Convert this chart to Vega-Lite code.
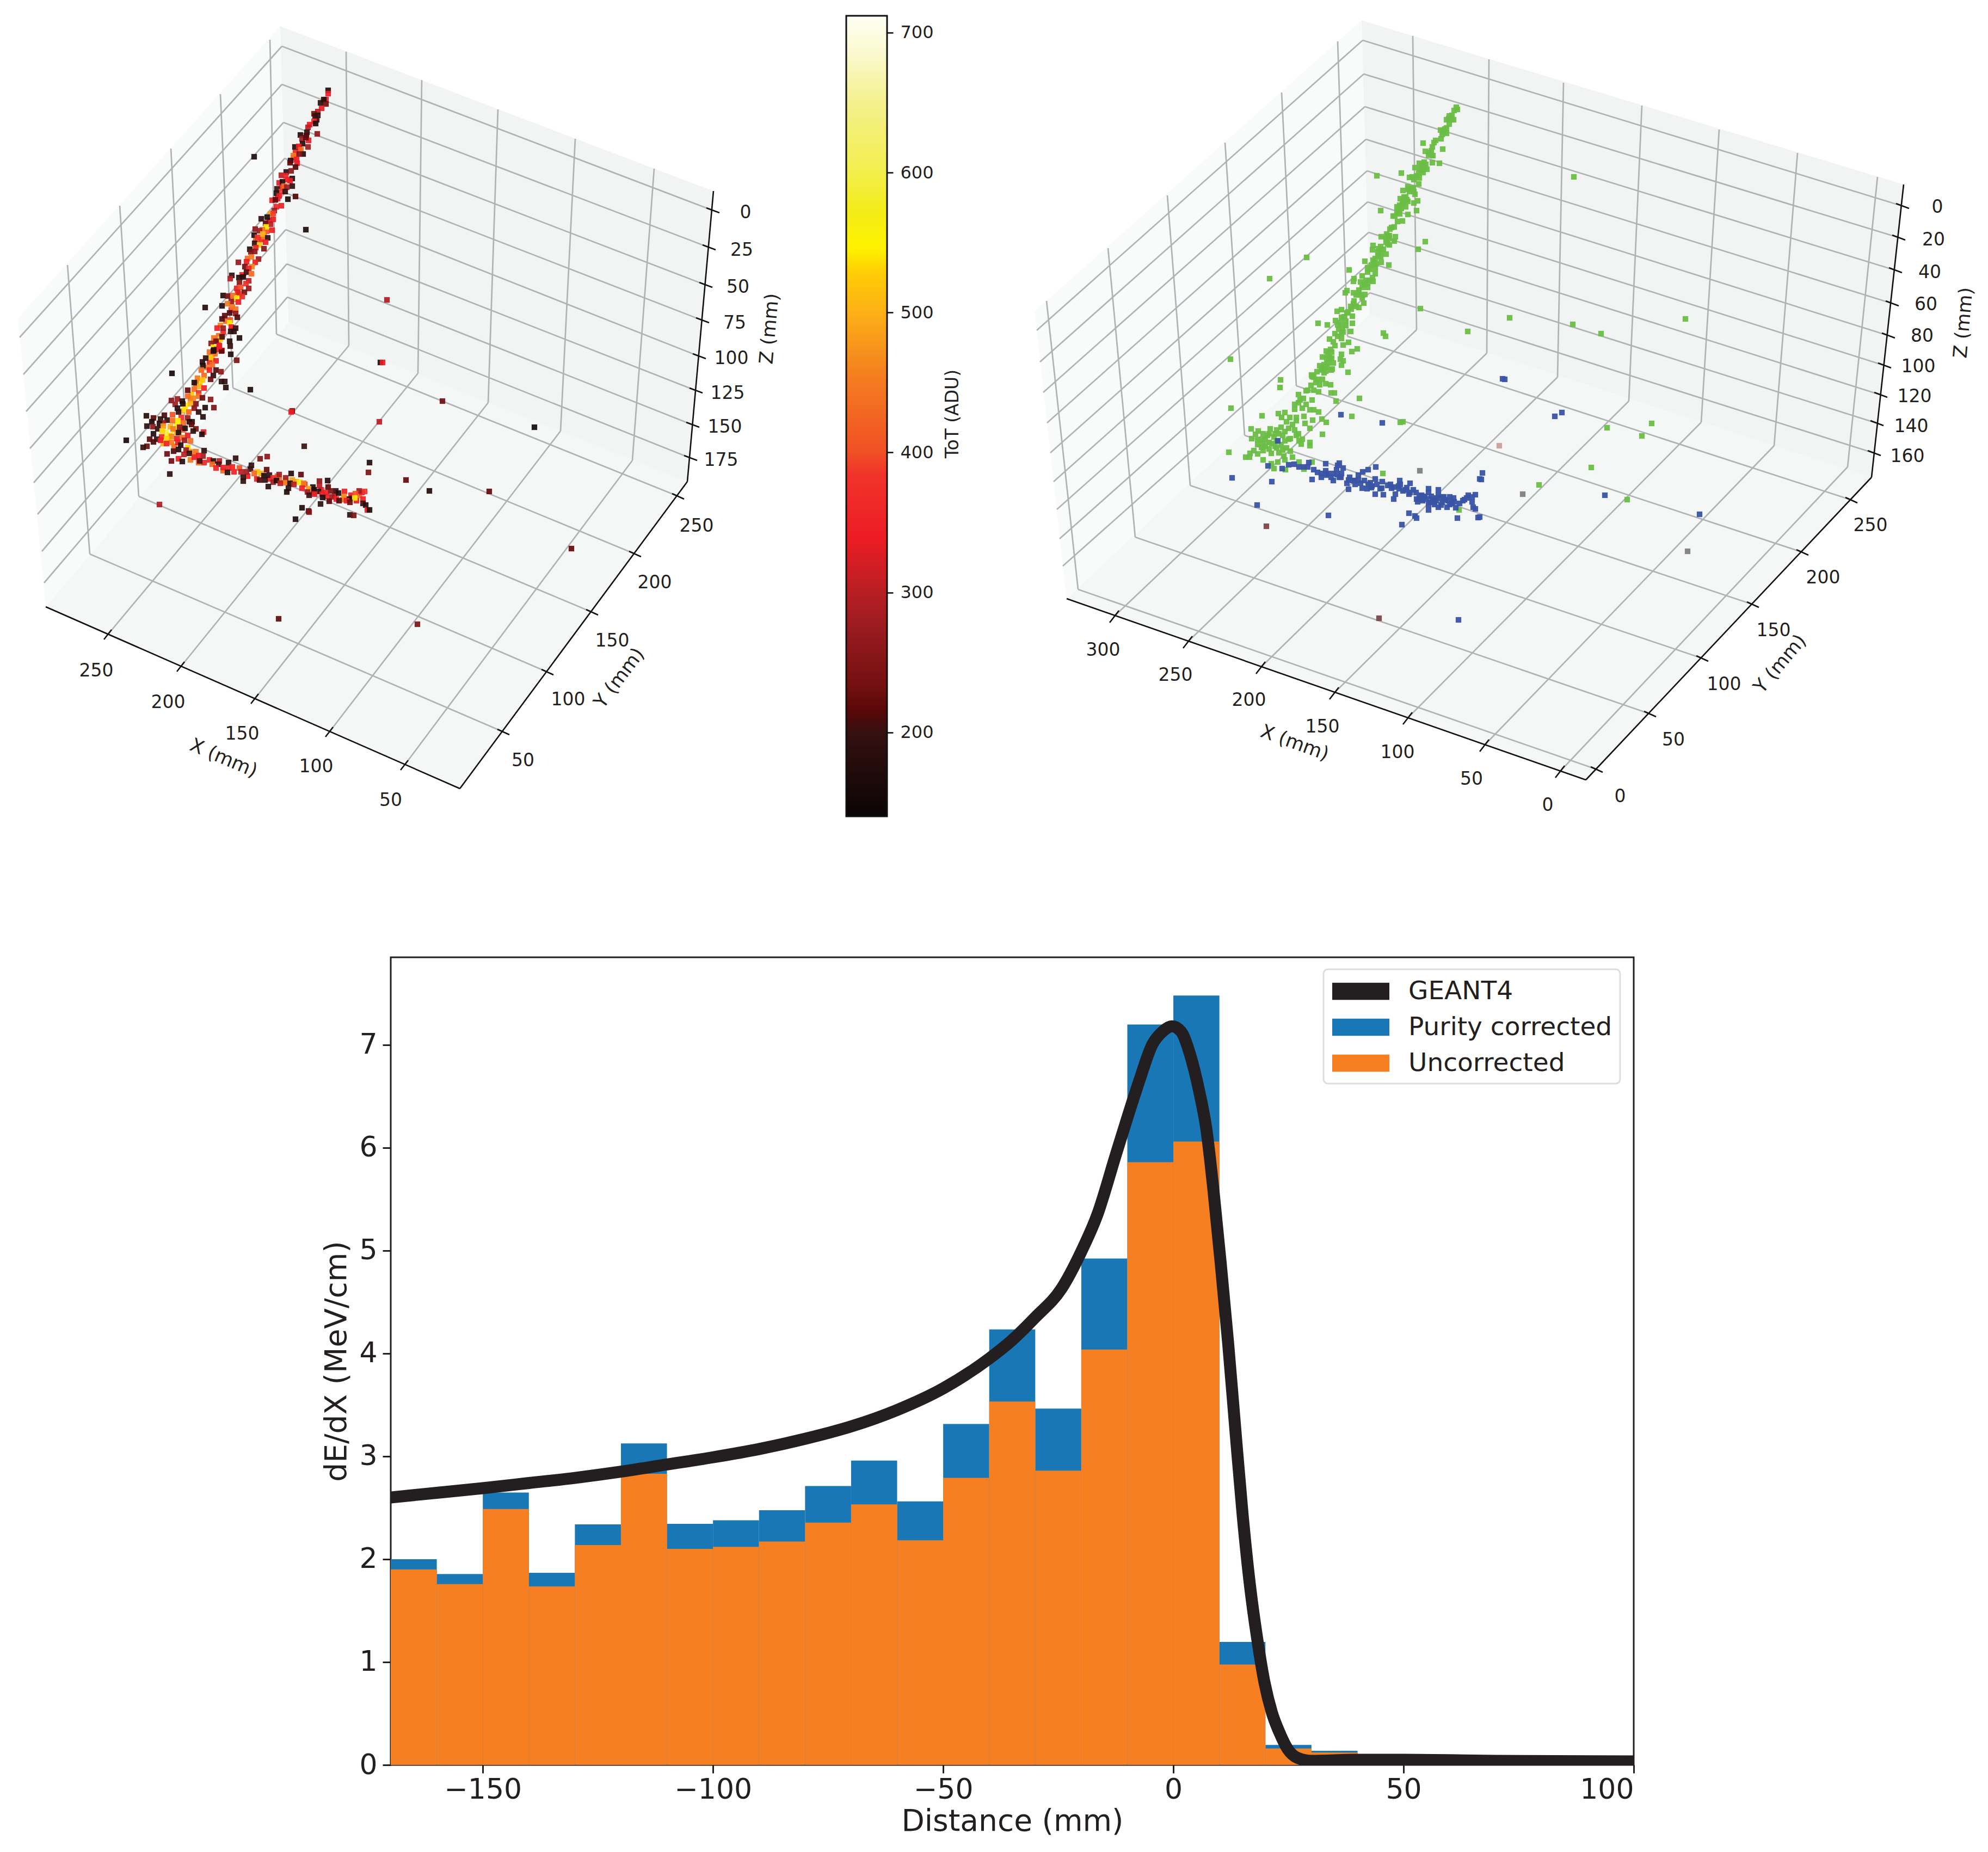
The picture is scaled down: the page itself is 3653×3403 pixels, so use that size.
{"$schema":"https://vega.github.io/schema/vega-lite/v6.json","background":"white","padding":0,"config":{"view":{"stroke":null},"font":"DejaVu Sans","text":{"font":"DejaVu Sans","color":"#231f20"},"legend":{"strokeWidth":3}},"bounds":"flush","spacing":1759,"vconcat":[{"bounds":"flush","spacing":0,"hconcat":[
{"width":1555,"height":1520,"encoding":{"x":{"field":"u","type":"quantitative","scale":{"domain":[0,1555]},"axis":null},"y":{"field":"v","type":"quantitative","scale":{"domain":[1520,0]},"axis":null}},"layer":[
{"data":{"values":[{"u":33,"v":585,"v2":585},{"u":84,"v":528,"v2":1115},{"u":515,"v":48,"v2":611},{"u":530,"v":593,"v2":593}]},"mark":{"type":"area","color":"#f9fafa","orient":"vertical"},"encoding":{"y2":{"field":"v2"}}},
{"data":{"values":[{"u":515,"v":48,"v2":48},{"u":530,"v":54,"v2":593},{"u":1263,"v":333,"v2":885},{"u":1311,"v":351,"v2":351}]},"mark":{"type":"area","color":"#f2f3f3","orient":"vertical"},"encoding":{"y2":{"field":"v2"}}},
{"data":{"values":[{"u":84,"v":1115,"v2":1115},{"u":530,"v":593,"v2":1311},{"u":845,"v":718,"v2":1449},{"u":1263,"v":885,"v2":885}]},"mark":{"type":"area","color":"#f5f7f7","orient":"vertical"},"encoding":{"y2":{"field":"v2"}}},
{"data":{"values":[{"u":199,"v":1165,"u2":641,"v2":635},{"u":641,"v":635,"u2":636,"v2":95},{"u":333,"v":1224,"u2":768,"v2":686},{"u":768,"v":686,"u2":775,"v2":147},{"u":469,"v":1283,"u2":897,"v2":740},{"u":897,"v":740,"u2":915,"v2":201},{"u":606,"v":1344,"u2":1030,"v2":792},{"u":1030,"v":792,"u2":1057,"v2":255},{"u":744,"v":1405,"u2":1162,"v2":846},{"u":1162,"v":846,"u2":1202,"v2":310},{"u":923,"v":1344,"u2":165,"v2":1018},{"u":165,"v":1018,"u2":124,"v2":487},{"u":1004,"v":1234,"u2":255,"v2":912},{"u":255,"v":912,"u2":220,"v2":378},{"u":1086,"v":1124,"u2":342,"v2":812},{"u":342,"v":812,"u2":314,"v2":273},{"u":1165,"v":1017,"u2":428,"v2":713},{"u":428,"v":713,"u2":405,"v2":173},{"u":1244,"v":911,"u2":508,"v2":614},{"u":508,"v":614,"u2":496,"v2":73},{"u":1308,"v":386,"u2":518,"v2":85},{"u":518,"v":85,"u2":36,"v2":620},{"u":1301,"v":454,"u2":518,"v2":155},{"u":518,"v":155,"u2":43,"v2":688},{"u":1295,"v":523,"u2":521,"v2":225},{"u":521,"v":225,"u2":48,"v2":756},{"u":1289,"v":588,"u2":523,"v2":291},{"u":523,"v":291,"u2":55,"v2":824},{"u":1283,"v":654,"u2":524,"v2":354},{"u":524,"v":354,"u2":62,"v2":887},{"u":1277,"v":717,"u2":525,"v2":422},{"u":525,"v":422,"u2":69,"v2":945},{"u":1271,"v":780,"u2":527,"v2":485},{"u":527,"v":485,"u2":77,"v2":1013},{"u":1267,"v":841,"u2":528,"v2":546},{"u":528,"v":546,"u2":81,"v2":1071}]},"mark":{"type":"rule","color":"#b1b3b3","strokeWidth":2.7},"encoding":{"x2":{"field":"u2"},"y2":{"field":"v2"}}},
{"data":{"values":[{"u":84,"v":1115,"u2":845,"v2":1449},{"u":845,"v":1449,"u2":1263,"v2":885},{"u":1311,"v":351,"u2":1263,"v2":885},{"u":191,"v":1175,"u2":205,"v2":1157},{"u":325,"v":1234,"u2":339,"v2":1216},{"u":461,"v":1293,"u2":475,"v2":1275},{"u":598,"v":1354,"u2":612,"v2":1336},{"u":736,"v":1415,"u2":750,"v2":1397},{"u":914,"v":1340,"u2":936,"v2":1350},{"u":995,"v":1230,"u2":1017,"v2":1240},{"u":1077,"v":1120,"u2":1099,"v2":1130},{"u":1156,"v":1013,"u2":1178,"v2":1023},{"u":1235,"v":907,"u2":1257,"v2":917},{"u":1298,"v":382,"u2":1322,"v2":391},{"u":1291,"v":450,"u2":1315,"v2":459},{"u":1285,"v":519,"u2":1309,"v2":528},{"u":1279,"v":584,"u2":1303,"v2":593},{"u":1273,"v":650,"u2":1297,"v2":659},{"u":1267,"v":713,"u2":1291,"v2":722},{"u":1261,"v":776,"u2":1285,"v2":785},{"u":1257,"v":837,"u2":1281,"v2":846}]},"mark":{"type":"rule","color":"#111111","strokeWidth":2.6},"encoding":{"x2":{"field":"u2"},"y2":{"field":"v2"}}},
{"data":{"values":[{"u":470,"v":440,"ToT":430},{"u":480,"v":440,"ToT":350},{"u":490,"v":425,"ToT":400},{"u":455,"v":475,"ToT":430},{"u":445,"v":505,"ToT":340},{"u":440,"v":540,"ToT":400},{"u":430,"v":550,"ToT":450},{"u":425,"v":570,"ToT":350},{"u":415,"v":590,"ToT":430},{"u":410,"v":610,"ToT":350},{"u":400,"v":625,"ToT":450},{"u":395,"v":650,"ToT":430},{"u":390,"v":660,"ToT":500},{"u":385,"v":665,"ToT":350},{"u":380,"v":675,"ToT":450},{"u":375,"v":690,"ToT":430},{"u":368,"v":700,"ToT":540},{"u":360,"v":705,"ToT":430},{"u":352,"v":725,"ToT":520},{"u":350,"v":735,"ToT":450},{"u":340,"v":745,"ToT":540},{"u":335,"v":755,"ToT":500},{"u":325,"v":780,"ToT":550},{"u":320,"v":790,"ToT":580},{"u":310,"v":810,"ToT":560},{"u":300,"v":815,"ToT":500},{"u":320,"v":820,"ToT":430},{"u":305,"v":800,"ToT":600},{"u":325,"v":795,"ToT":500},{"u":335,"v":790,"ToT":430},{"u":345,"v":800,"ToT":340},{"u":350,"v":810,"ToT":430},{"u":350,"v":845,"ToT":450},{"u":365,"v":850,"ToT":430},{"u":375,"v":850,"ToT":350},{"u":410,"v":865,"ToT":430},{"u":420,"v":860,"ToT":350},{"u":440,"v":860,"ToT":400},{"u":455,"v":875,"ToT":340},{"u":480,"v":870,"ToT":500},{"u":495,"v":880,"ToT":340},{"u":510,"v":875,"ToT":430},{"u":525,"v":883,"ToT":500},{"u":545,"v":885,"ToT":480},{"u":560,"v":890,"ToT":380},{"u":575,"v":905,"ToT":340},{"u":590,"v":900,"ToT":330},{"u":600,"v":912,"ToT":340},{"u":615,"v":910,"ToT":340},{"u":630,"v":918,"ToT":420},{"u":645,"v":910,"ToT":340},{"u":655,"v":920,"ToT":340},{"u":660,"v":910,"ToT":430},{"u":665,"v":905,"ToT":350},{"u":550,"v":272,"ToT":340},{"u":540,"v":290,"ToT":340},{"u":528,"v":330,"ToT":340},{"u":518,"v":345,"ToT":340},{"u":510,"v":365,"ToT":340},{"u":495,"v":405,"ToT":340},{"u":485,"v":435,"ToT":450},{"u":603,"v":166,"ToT":170},{"u":603,"v":172,"ToT":340},{"u":599,"v":183,"ToT":330},{"u":595,"v":183,"ToT":170},{"u":589,"v":189,"ToT":180},{"u":599,"v":191,"ToT":230},{"u":591,"v":199,"ToT":340},{"u":584,"v":205,"ToT":300},{"u":577,"v":209,"ToT":240},{"u":584,"v":212,"ToT":180},{"u":579,"v":213,"ToT":200},{"u":582,"v":220,"ToT":210},{"u":577,"v":223,"ToT":370},{"u":580,"v":227,"ToT":170},{"u":569,"v":229,"ToT":340},{"u":566,"v":234,"ToT":300},{"u":564,"v":243,"ToT":200},{"u":583,"v":246,"ToT":260},{"u":552,"v":248,"ToT":170},{"u":563,"v":249,"ToT":210},{"u":567,"v":258,"ToT":340},{"u":555,"v":255,"ToT":280},{"u":562,"v":253,"ToT":220},{"u":556,"v":264,"ToT":170},{"u":566,"v":270,"ToT":280},{"u":542,"v":270,"ToT":170},{"u":549,"v":269,"ToT":340},{"u":553,"v":275,"ToT":430},{"u":543,"v":280,"ToT":350},{"u":557,"v":283,"ToT":170},{"u":550,"v":283,"ToT":250},{"u":539,"v":286,"ToT":450},{"u":545,"v":293,"ToT":340},{"u":534,"v":295,"ToT":170},{"u":533,"v":299,"ToT":220},{"u":546,"v":300,"ToT":340},{"u":543,"v":307,"ToT":210},{"u":526,"v":316,"ToT":180},{"u":535,"v":314,"ToT":260},{"u":517,"v":322,"ToT":300},{"u":525,"v":323,"ToT":350},{"u":537,"v":328,"ToT":170},{"u":533,"v":332,"ToT":340},{"u":513,"v":336,"ToT":330},{"u":519,"v":334,"ToT":170},{"u":522,"v":342,"ToT":430},{"u":537,"v":342,"ToT":190},{"u":527,"v":344,"ToT":280},{"u":509,"v":347,"ToT":200},{"u":517,"v":352,"ToT":390},{"u":524,"v":352,"ToT":190},{"u":508,"v":355,"ToT":170},{"u":513,"v":360,"ToT":340},{"u":543,"v":361,"ToT":210},{"u":529,"v":366,"ToT":160},{"u":500,"v":368,"ToT":340},{"u":506,"v":367,"ToT":220},{"u":517,"v":378,"ToT":340},{"u":508,"v":380,"ToT":350},{"u":504,"v":387,"ToT":280},{"u":497,"v":393,"ToT":480},{"u":502,"v":392,"ToT":390},{"u":480,"v":402,"ToT":190},{"u":491,"v":399,"ToT":170},{"u":502,"v":403,"ToT":340},{"u":488,"v":410,"ToT":220},{"u":497,"v":412,"ToT":300},{"u":489,"v":417,"ToT":540},{"u":482,"v":422,"ToT":440},{"u":469,"v":421,"ToT":260},{"u":500,"v":423,"ToT":340},{"u":477,"v":424,"ToT":280},{"u":467,"v":432,"ToT":170},{"u":483,"v":430,"ToT":500},{"u":473,"v":436,"ToT":380},{"u":492,"v":437,"ToT":190},{"u":488,"v":445,"ToT":340},{"u":468,"v":447,"ToT":190},{"u":477,"v":450,"ToT":520},{"u":485,"v":457,"ToT":250},{"u":470,"v":455,"ToT":350},{"u":459,"v":458,"ToT":170},{"u":461,"v":463,"ToT":240},{"u":468,"v":462,"ToT":260},{"u":462,"v":472,"ToT":450},{"u":475,"v":476,"ToT":280},{"u":453,"v":481,"ToT":340},{"u":438,"v":482,"ToT":270},{"u":469,"v":482,"ToT":350},{"u":463,"v":490,"ToT":460},{"u":450,"v":490,"ToT":230},{"u":457,"v":493,"ToT":350},{"u":453,"v":500,"ToT":210},{"u":462,"v":503,"ToT":430},{"u":426,"v":506,"ToT":190},{"u":447,"v":509,"ToT":170},{"u":439,"v":510,"ToT":170},{"u":423,"v":512,"ToT":300},{"u":457,"v":516,"ToT":300},{"u":440,"v":519,"ToT":260},{"u":452,"v":521,"ToT":370},{"u":457,"v":530,"ToT":270},{"u":435,"v":530,"ToT":350},{"u":442,"v":528,"ToT":400},{"u":437,"v":537,"ToT":330},{"u":449,"v":537,"ToT":240},{"u":410,"v":543,"ToT":170},{"u":419,"v":544,"ToT":240},{"u":428,"v":543,"ToT":430},{"u":445,"v":545,"ToT":370},{"u":435,"v":548,"ToT":540},{"u":425,"v":554,"ToT":270},{"u":438,"v":555,"ToT":340},{"u":418,"v":558,"ToT":450},{"u":408,"v":562,"ToT":170},{"u":377,"v":565,"ToT":170},{"u":427,"v":564,"ToT":440},{"u":433,"v":568,"ToT":440},{"u":422,"v":575,"ToT":210},{"u":433,"v":576,"ToT":260},{"u":413,"v":580,"ToT":220},{"u":436,"v":583,"ToT":210},{"u":408,"v":586,"ToT":210},{"u":423,"v":588,"ToT":400},{"u":422,"v":593,"ToT":540},{"u":405,"v":598,"ToT":460},{"u":399,"v":603,"ToT":340},{"u":410,"v":603,"ToT":280},{"u":425,"v":601,"ToT":340},{"u":433,"v":603,"ToT":200},{"u":424,"v":609,"ToT":180},{"u":430,"v":609,"ToT":180},{"u":440,"v":621,"ToT":170},{"u":402,"v":617,"ToT":430},{"u":393,"v":621,"ToT":440},{"u":405,"v":623,"ToT":530},{"u":408,"v":619,"ToT":210},{"u":397,"v":627,"ToT":230},{"u":422,"v":627,"ToT":180},{"u":388,"v":631,"ToT":260},{"u":403,"v":635,"ToT":340},{"u":423,"v":636,"ToT":200},{"u":392,"v":638,"ToT":540},{"u":398,"v":642,"ToT":340},{"u":408,"v":644,"ToT":340},{"u":385,"v":647,"ToT":430},{"u":392,"v":645,"ToT":170},{"u":393,"v":643,"ToT":180},{"u":424,"v":651,"ToT":170},{"u":435,"v":662,"ToT":240},{"u":407,"v":645,"ToT":220},{"u":403,"v":637,"ToT":340},{"u":387,"v":657,"ToT":520},{"u":397,"v":663,"ToT":340},{"u":378,"v":658,"ToT":190},{"u":372,"v":665,"ToT":190},{"u":390,"v":670,"ToT":430},{"u":373,"v":672,"ToT":170},{"u":385,"v":680,"ToT":340},{"u":370,"v":680,"ToT":430},{"u":397,"v":680,"ToT":210},{"u":406,"v":683,"ToT":260},{"u":392,"v":690,"ToT":180},{"u":316,"v":686,"ToT":150},{"u":363,"v":695,"ToT":450},{"u":372,"v":698,"ToT":520},{"u":387,"v":697,"ToT":230},{"u":357,"v":703,"ToT":170},{"u":407,"v":701,"ToT":190},{"u":413,"v":701,"ToT":190},{"u":415,"v":712,"ToT":170},{"u":460,"v":716,"ToT":160},{"u":367,"v":710,"ToT":500},{"u":375,"v":713,"ToT":350},{"u":357,"v":715,"ToT":430},{"u":345,"v":717,"ToT":220},{"u":365,"v":722,"ToT":370},{"u":345,"v":728,"ToT":430},{"u":355,"v":732,"ToT":460},{"u":365,"v":728,"ToT":440},{"u":372,"v":731,"ToT":230},{"u":315,"v":736,"ToT":260},{"u":326,"v":733,"ToT":280},{"u":335,"v":737,"ToT":170},{"u":387,"v":734,"ToT":260},{"u":336,"v":742,"ToT":170},{"u":322,"v":743,"ToT":280},{"u":350,"v":742,"ToT":500},{"u":360,"v":742,"ToT":250},{"u":326,"v":750,"ToT":180},{"u":377,"v":749,"ToT":170},{"u":393,"v":749,"ToT":240},{"u":340,"v":752,"ToT":540},{"u":357,"v":750,"ToT":260},{"u":347,"v":757,"ToT":430},{"u":328,"v":757,"ToT":190},{"u":365,"v":757,"ToT":190},{"u":317,"v":762,"ToT":400},{"u":302,"v":763,"ToT":210},{"u":269,"v":764,"ToT":170},{"u":282,"v":768,"ToT":220},{"u":295,"v":770,"ToT":190},{"u":307,"v":772,"ToT":180},{"u":373,"v":766,"ToT":170},{"u":333,"v":767,"ToT":370},{"u":345,"v":768,"ToT":280},{"u":279,"v":775,"ToT":165},{"u":317,"v":773,"ToT":430},{"u":327,"v":773,"ToT":540},{"u":300,"v":777,"ToT":280},{"u":353,"v":775,"ToT":180},{"u":348,"v":775,"ToT":170},{"u":293,"v":778,"ToT":170},{"u":337,"v":777,"ToT":430},{"u":352,"v":780,"ToT":220},{"u":270,"v":783,"ToT":190},{"u":281,"v":784,"ToT":260},{"u":313,"v":784,"ToT":500},{"u":300,"v":783,"ToT":480},{"u":290,"v":788,"ToT":190},{"u":340,"v":787,"ToT":170},{"u":330,"v":785,"ToT":260},{"u":318,"v":788,"ToT":450},{"u":360,"v":788,"ToT":240},{"u":355,"v":792,"ToT":180},{"u":374,"v":794,"ToT":340},{"u":328,"v":795,"ToT":170},{"u":305,"v":794,"ToT":600},{"u":298,"v":792,"ToT":530},{"u":282,"v":797,"ToT":170},{"u":371,"v":798,"ToT":170},{"u":312,"v":800,"ToT":570},{"u":297,"v":803,"ToT":350},{"u":335,"v":804,"ToT":440},{"u":275,"v":807,"ToT":220},{"u":315,"v":802,"ToT":460},{"u":325,"v":806,"ToT":340},{"u":288,"v":807,"ToT":200},{"u":232,"v":809,"ToT":150},{"u":306,"v":806,"ToT":530},{"u":295,"v":809,"ToT":340},{"u":339,"v":809,"ToT":280},{"u":282,"v":812,"ToT":210},{"u":315,"v":813,"ToT":450},{"u":306,"v":815,"ToT":350},{"u":327,"v":813,"ToT":340},{"u":270,"v":820,"ToT":230},{"u":263,"v":822,"ToT":200},{"u":332,"v":818,"ToT":170},{"u":345,"v":822,"ToT":530},{"u":328,"v":826,"ToT":170},{"u":342,"v":827,"ToT":280},{"u":319,"v":829,"ToT":210},{"u":353,"v":830,"ToT":480},{"u":360,"v":830,"ToT":450},{"u":375,"v":828,"ToT":190},{"u":307,"v":834,"ToT":230},{"u":338,"v":835,"ToT":300},{"u":348,"v":833,"ToT":200},{"u":373,"v":838,"ToT":280},{"u":365,"v":837,"ToT":340},{"u":433,"v":842,"ToT":190},{"u":478,"v":843,"ToT":240},{"u":491,"v":839,"ToT":260},{"u":328,"v":843,"ToT":340},{"u":357,"v":840,"ToT":340},{"u":385,"v":845,"ToT":350},{"u":315,"v":847,"ToT":230},{"u":335,"v":848,"ToT":170},{"u":367,"v":847,"ToT":210},{"u":392,"v":847,"ToT":170},{"u":403,"v":847,"ToT":300},{"u":420,"v":850,"ToT":190},{"u":402,"v":853,"ToT":210},{"u":390,"v":853,"ToT":430},{"u":462,"v":855,"ToT":190},{"u":410,"v":859,"ToT":340},{"u":427,"v":858,"ToT":350},{"u":397,"v":860,"ToT":350},{"u":490,"v":863,"ToT":220},{"u":460,"v":862,"ToT":200},{"u":443,"v":867,"ToT":300},{"u":453,"v":867,"ToT":280},{"u":473,"v":867,"ToT":520},{"u":418,"v":868,"ToT":170},{"u":467,"v":870,"ToT":430},{"u":312,"v":871,"ToT":180},{"u":430,"v":867,"ToT":350},{"u":447,"v":877,"ToT":200},{"u":485,"v":874,"ToT":170},{"u":495,"v":873,"ToT":190},{"u":513,"v":872,"ToT":280},{"u":535,"v":870,"ToT":170},{"u":553,"v":872,"ToT":220},{"u":472,"v":880,"ToT":340},{"u":477,"v":882,"ToT":210},{"u":447,"v":884,"ToT":190},{"u":502,"v":878,"ToT":370},{"u":487,"v":882,"ToT":190},{"u":525,"v":878,"ToT":280},{"u":513,"v":882,"ToT":430},{"u":587,"v":884,"ToT":260},{"u":602,"v":883,"ToT":170},{"u":537,"v":882,"ToT":480},{"u":502,"v":886,"ToT":280},{"u":508,"v":883,"ToT":170},{"u":523,"v":887,"ToT":450},{"u":550,"v":886,"ToT":560},{"u":533,"v":888,"ToT":170},{"u":515,"v":888,"ToT":300},{"u":540,"v":890,"ToT":300},{"u":558,"v":888,"ToT":450},{"u":587,"v":892,"ToT":300},{"u":493,"v":894,"ToT":180},{"u":530,"v":897,"ToT":190},{"u":555,"v":897,"ToT":340},{"u":575,"v":895,"ToT":170},{"u":603,"v":895,"ToT":220},{"u":567,"v":898,"ToT":480},{"u":527,"v":904,"ToT":165},{"u":565,"v":904,"ToT":280},{"u":577,"v":900,"ToT":170},{"u":585,"v":903,"ToT":190},{"u":617,"v":902,"ToT":200},{"u":633,"v":903,"ToT":340},{"u":660,"v":902,"ToT":280},{"u":670,"v":903,"ToT":380},{"u":598,"v":905,"ToT":340},{"u":608,"v":902,"ToT":240},{"u":622,"v":906,"ToT":170},{"u":653,"v":907,"ToT":400},{"u":568,"v":910,"ToT":200},{"u":578,"v":908,"ToT":340},{"u":592,"v":908,"ToT":340},{"u":632,"v":912,"ToT":460},{"u":610,"v":913,"ToT":280},{"u":647,"v":915,"ToT":260},{"u":593,"v":914,"ToT":170},{"u":642,"v":917,"ToT":170},{"u":618,"v":917,"ToT":340},{"u":667,"v":917,"ToT":340},{"u":652,"v":915,"ToT":540},{"u":605,"v":921,"ToT":220},{"u":623,"v":920,"ToT":210},{"u":637,"v":920,"ToT":340},{"u":643,"v":923,"ToT":230},{"u":589,"v":926,"ToT":190},{"u":667,"v":925,"ToT":210},{"u":672,"v":928,"ToT":170},{"u":555,"v":933,"ToT":160},{"u":567,"v":939,"ToT":210},{"u":568,"v":941,"ToT":250},{"u":675,"v":937,"ToT":340},{"u":679,"v":937,"ToT":170},{"u":643,"v":946,"ToT":190},{"u":650,"v":947,"ToT":240},{"u":543,"v":954,"ToT":160},{"u":293,"v":927,"ToT":290},{"u":677,"v":868,"ToT":240},{"u":679,"v":850,"ToT":170},{"u":559,"v":820,"ToT":200},{"u":697,"v":775,"ToT":300},{"u":537,"v":755,"ToT":230},{"u":535,"v":757,"ToT":340},{"u":699,"v":666,"ToT":170},{"u":703,"v":666,"ToT":340},{"u":467,"v":288,"ToT":170},{"u":562,"v":422,"ToT":160},{"u":711,"v":551,"ToT":290},{"u":813,"v":737,"ToT":230},{"u":982,"v":785,"ToT":150},{"u":789,"v":902,"ToT":165},{"u":746,"v":882,"ToT":220},{"u":899,"v":903,"ToT":220},{"u":1050,"v":1008,"ToT":220},{"u":767,"v":1147,"ToT":240},{"u":512,"v":1137,"ToT":220}]},"mark":{"type":"point","shape":"square","filled":true,"size":105,"opacity":0.92},"encoding":{"color":{"field":"ToT","type":"quantitative","legend":null,"scale":{"domain":[140,200,215,233,271,300,339,384,400,452,500,527,546,572,600,648,686,712],"range":["#0a0505","#351010","#580707","#731010","#961b1f","#b81e23","#ed1c24","#f0332a","#f15025","#f47b20","#fcb116","#ffcb05","#fff200","#f2ec18","#f3ef4c","#f4f08b","#faf9cf","#fffff5"]}}}},
{"data":{"values":[{"u":177,"v":1233,"label":"250"},{"u":309,"v":1291,"label":"200"},{"u":445,"v":1349,"label":"150"},{"u":581,"v":1409,"label":"100"},{"u":718,"v":1471,"label":"50"},{"u":961,"v":1398,"label":"50"},{"u":1044,"v":1286,"label":"100"},{"u":1125,"v":1178,"label":"150"},{"u":1203,"v":1071,"label":"200"},{"u":1280,"v":967,"label":"250"},{"u":1370,"v":391,"label":"0"},{"u":1363,"v":460,"label":"25"},{"u":1356,"v":528,"label":"50"},{"u":1350,"v":594,"label":"75"},{"u":1344,"v":659,"label":"100"},{"u":1337,"v":723,"label":"125"},{"u":1332,"v":785,"label":"150"},{"u":1325,"v":846,"label":"175"}]},"mark":{"type":"text","fontSize":33,"align":"center","baseline":"middle"},"encoding":{"text":{"field":"label"}}},
{"data":{"values":[{"u":411,"v":1393,"label":"X (mm)"}]},"mark":{"type":"text","fontSize":35,"align":"center","baseline":"middle","angle":23},"encoding":{"text":{"field":"label"}}},
{"data":{"values":[{"u":1138,"v":1246,"label":"Y (mm)"}]},"mark":{"type":"text","fontSize":35,"align":"center","baseline":"middle","angle":307},"encoding":{"text":{"field":"label"}}},
{"data":{"values":[{"u":1414,"v":604,"label":"Z (mm)"}]},"mark":{"type":"text","fontSize":35,"align":"center","baseline":"middle","angle":275},"encoding":{"text":{"field":"label"}}}
]},
{"width":75,"height":1520,"data":{"values":[{"low":140,"high":712}]},"mark":{"type":"rect","stroke":"#111111","strokeWidth":3,"fill":{"gradient":"linear","x1":0,"y1":1,"x2":0,"y2":0,"stops":[{"offset":0,"color":"#0a0505"},{"offset":0.105,"color":"#351010"},{"offset":0.131,"color":"#580707"},{"offset":0.163,"color":"#731010"},{"offset":0.229,"color":"#961b1f"},{"offset":0.281,"color":"#b81e23"},{"offset":0.348,"color":"#ed1c24"},{"offset":0.427,"color":"#f0332a"},{"offset":0.455,"color":"#f15025"},{"offset":0.545,"color":"#f47b20"},{"offset":0.631,"color":"#fcb116"},{"offset":0.677,"color":"#ffcb05"},{"offset":0.71,"color":"#fff200"},{"offset":0.756,"color":"#f2ec18"},{"offset":0.805,"color":"#f3ef4c"},{"offset":0.888,"color":"#f4f08b"},{"offset":0.954,"color":"#faf9cf"},{"offset":1,"color":"#fffff5"}]}},"encoding":{"y":{"field":"low","type":"quantitative","scale":{"domain":[132.2,723.3],"nice":false,"zero":false},"axis":{"orient":"right","values":[200,300,400,500,600,700],"domain":false,"grid":false,"tickSize":11,"tickWidth":2.6,"tickColor":"#111111","labelFontSize":32,"labelColor":"#231f20","labelPadding":13,"title":"ToT (ADU)","titleFontSize":33,"titleFontWeight":"normal","titleColor":"#231f20","titleAngle":270,"titlePadding":52}},"y2":{"field":"high"}}},
{"width":2023,"height":1520,"encoding":{"x":{"field":"u","type":"quantitative","scale":{"domain":[1630,3653]},"axis":null},"y":{"field":"v","type":"quantitative","scale":{"domain":[1520,0]},"axis":null}},"layer":[
{"data":{"values":[{"u":1901,"v":572,"v2":572},{"u":1960,"v":520,"v2":1100},{"u":2502,"v":37,"v2":592},{"u":2517,"v":578,"v2":578}]},"mark":{"type":"area","color":"#f9fafa","orient":"vertical"},"encoding":{"y2":{"field":"v2"}}},
{"data":{"values":[{"u":2502,"v":37,"v2":37},{"u":2517,"v":42,"v2":578},{"u":3439,"v":321,"v2":877},{"u":3498,"v":339,"v2":339}]},"mark":{"type":"area","color":"#f2f3f3","orient":"vertical"},"encoding":{"y2":{"field":"v2"}}},
{"data":{"values":[{"u":1960,"v":1100,"v2":1100},{"u":2517,"v":578,"v2":1294},{"u":2914,"v":707,"v2":1433},{"u":3439,"v":877,"v2":877}]},"mark":{"type":"area","color":"#f5f7f7","orient":"vertical"},"encoding":{"y2":{"field":"v2"}}},
{"data":{"values":[{"u":2049,"v":1131,"u2":2603,"v2":606},{"u":2603,"v":606,"u2":2596,"v2":66},{"u":2184,"v":1178,"u2":2732,"v2":649},{"u":2732,"v":649,"u2":2736,"v2":109},{"u":2318,"v":1225,"u2":2862,"v2":693},{"u":2862,"v":693,"u2":2873,"v2":152},{"u":2453,"v":1272,"u2":2993,"v2":737},{"u":2993,"v":737,"u2":3017,"v2":194},{"u":2588,"v":1318,"u2":3126,"v2":776},{"u":3126,"v":776,"u2":3159,"v2":238},{"u":2729,"v":1368,"u2":3260,"v2":819},{"u":3260,"v":819,"u2":3303,"v2":281},{"u":2868,"v":1416,"u2":3395,"v2":858},{"u":3395,"v":858,"u2":3450,"v2":325},{"u":2932,"v":1413,"u2":1981,"v2":1083},{"u":1981,"v":1083,"u2":1923,"v2":553},{"u":3030,"v":1311,"u2":2086,"v2":987},{"u":2086,"v":987,"u2":2036,"v2":456},{"u":3126,"v":1209,"u2":2187,"v2":892},{"u":2187,"v":892,"u2":2145,"v2":359},{"u":3219,"v":1110,"u2":2287,"v2":800},{"u":2287,"v":800,"u2":2251,"v2":262},{"u":3310,"v":1014,"u2":2382,"v2":709},{"u":2382,"v":709,"u2":2355,"v2":170},{"u":3400,"v":918,"u2":2476,"v2":618},{"u":2476,"v":618,"u2":2458,"v2":76},{"u":3494,"v":378,"u2":2504,"v2":74},{"u":2504,"v":74,"u2":1905,"v2":607},{"u":3487,"v":436,"u2":2506,"v2":136},{"u":2506,"v":136,"u2":1911,"v2":665},{"u":3481,"v":496,"u2":2508,"v2":196},{"u":2508,"v":196,"u2":1917,"v2":721},{"u":3475,"v":557,"u2":2510,"v2":256},{"u":2510,"v":256,"u2":1924,"v2":777},{"u":3468,"v":616,"u2":2512,"v2":314},{"u":2512,"v":314,"u2":1930,"v2":832},{"u":3461,"v":671,"u2":2513,"v2":371},{"u":2513,"v":371,"u2":1936,"v2":885},{"u":3454,"v":725,"u2":2515,"v2":427},{"u":2515,"v":427,"u2":1942,"v2":936},{"u":3447,"v":777,"u2":2517,"v2":483},{"u":2517,"v":483,"u2":1947,"v2":990},{"u":3442,"v":832,"u2":2517,"v2":538},{"u":2517,"v":538,"u2":1953,"v2":1040}]},"mark":{"type":"rule","color":"#b1b3b3","strokeWidth":2.7},"encoding":{"x2":{"field":"u2"},"y2":{"field":"v2"}}},
{"data":{"values":[{"u":1960,"v":1100,"u2":2914,"v2":1433},{"u":2914,"v":1433,"u2":3439,"v2":877},{"u":3498,"v":339,"u2":3439,"v2":877},{"u":2039,"v":1144,"u2":2056,"v2":1122},{"u":2174,"v":1191,"u2":2191,"v2":1169},{"u":2308,"v":1238,"u2":2325,"v2":1216},{"u":2443,"v":1285,"u2":2460,"v2":1263},{"u":2578,"v":1331,"u2":2595,"v2":1309},{"u":2719,"v":1381,"u2":2736,"v2":1359},{"u":2858,"v":1429,"u2":2875,"v2":1407},{"u":2923,"v":1409,"u2":2945,"v2":1419},{"u":3021,"v":1307,"u2":3043,"v2":1317},{"u":3117,"v":1205,"u2":3139,"v2":1215},{"u":3210,"v":1106,"u2":3232,"v2":1116},{"u":3301,"v":1010,"u2":3323,"v2":1020},{"u":3391,"v":914,"u2":3413,"v2":924},{"u":3484,"v":374,"u2":3508,"v2":383},{"u":3477,"v":432,"u2":3501,"v2":441},{"u":3471,"v":492,"u2":3495,"v2":501},{"u":3465,"v":553,"u2":3489,"v2":562},{"u":3458,"v":612,"u2":3482,"v2":621},{"u":3451,"v":667,"u2":3475,"v2":676},{"u":3444,"v":721,"u2":3468,"v2":730},{"u":3437,"v":773,"u2":3461,"v2":782},{"u":3432,"v":828,"u2":3456,"v2":837}]},"mark":{"type":"rule","color":"#111111","strokeWidth":2.6},"encoding":{"x2":{"field":"u2"},"y2":{"field":"v2"}}},
{"data":{"values":[{"u":2663,"v":213,"cluster":"track"},{"u":2667,"v":220,"cluster":"track"},{"u":2652,"v":242,"cluster":"track"},{"u":2655,"v":237,"cluster":"track"},{"u":2627,"v":280,"cluster":"track"},{"u":2630,"v":285,"cluster":"track"},{"u":2613,"v":303,"cluster":"track"},{"u":2617,"v":307,"cluster":"track"},{"u":2612,"v":313,"cluster":"track"},{"u":2603,"v":323,"cluster":"track"},{"u":2593,"v":347,"cluster":"track"},{"u":2588,"v":348,"cluster":"track"},{"u":2598,"v":352,"cluster":"track"},{"u":2583,"v":362,"cluster":"track"},{"u":2587,"v":370,"cluster":"track"},{"u":2578,"v":370,"cluster":"track"},{"u":2572,"v":377,"cluster":"track"},{"u":2575,"v":383,"cluster":"track"},{"u":2567,"v":390,"cluster":"track"},{"u":2563,"v":397,"cluster":"track"},{"u":2557,"v":418,"cluster":"track"},{"u":2550,"v":433,"cluster":"track"},{"u":2553,"v":433,"cluster":"track"},{"u":2547,"v":440,"cluster":"track"},{"u":2550,"v":448,"cluster":"track"},{"u":2533,"v":457,"cluster":"track"},{"u":2542,"v":458,"cluster":"track"},{"u":2537,"v":465,"cluster":"track"},{"u":2532,"v":470,"cluster":"track"},{"u":2527,"v":475,"cluster":"track"},{"u":2520,"v":487,"cluster":"track"},{"u":2525,"v":483,"cluster":"track"},{"u":2517,"v":495,"cluster":"track"},{"u":2510,"v":515,"cluster":"track"},{"u":2517,"v":515,"cluster":"track"},{"u":2507,"v":523,"cluster":"track"},{"u":2497,"v":533,"cluster":"track"},{"u":2492,"v":542,"cluster":"track"},{"u":2500,"v":542,"cluster":"track"},{"u":2488,"v":553,"cluster":"track"},{"u":2492,"v":563,"cluster":"track"},{"u":2483,"v":568,"cluster":"track"},{"u":2475,"v":575,"cluster":"track"},{"u":2470,"v":582,"cluster":"track"},{"u":2463,"v":593,"cluster":"track"},{"u":2473,"v":598,"cluster":"track"},{"u":2460,"v":605,"cluster":"track"},{"u":2468,"v":610,"cluster":"track"},{"u":2458,"v":618,"cluster":"track"},{"u":2450,"v":628,"cluster":"track"},{"u":2453,"v":635,"cluster":"track"},{"u":2445,"v":642,"cluster":"track"},{"u":2440,"v":650,"cluster":"track"},{"u":2447,"v":658,"cluster":"track"},{"u":2438,"v":660,"cluster":"track"},{"u":2433,"v":670,"cluster":"track"},{"u":2438,"v":673,"cluster":"track"},{"u":2430,"v":677,"cluster":"track"},{"u":2676,"v":197,"cluster":"track"},{"u":2678,"v":201,"cluster":"track"},{"u":2672,"v":203,"cluster":"track"},{"u":2668,"v":212,"cluster":"track"},{"u":2671,"v":220,"cluster":"track"},{"u":2662,"v":218,"cluster":"track"},{"u":2658,"v":220,"cluster":"track"},{"u":2663,"v":228,"cluster":"track"},{"u":2658,"v":235,"cluster":"track"},{"u":2647,"v":239,"cluster":"track"},{"u":2652,"v":240,"cluster":"track"},{"u":2658,"v":245,"cluster":"track"},{"u":2650,"v":247,"cluster":"track"},{"u":2648,"v":255,"cluster":"track"},{"u":2638,"v":258,"cluster":"track"},{"u":2635,"v":262,"cluster":"track"},{"u":2632,"v":270,"cluster":"track"},{"u":2630,"v":277,"cluster":"track"},{"u":2619,"v":278,"cluster":"track"},{"u":2633,"v":286,"cluster":"track"},{"u":2625,"v":285,"cluster":"track"},{"u":2615,"v":263,"cluster":"track"},{"u":2651,"v":274,"cluster":"track"},{"u":2632,"v":299,"cluster":"track"},{"u":2645,"v":300,"cluster":"track"},{"u":2617,"v":298,"cluster":"track"},{"u":2608,"v":300,"cluster":"track"},{"u":2620,"v":302,"cluster":"track"},{"u":2600,"v":308,"cluster":"track"},{"u":2622,"v":311,"cluster":"track"},{"u":2610,"v":310,"cluster":"track"},{"u":2615,"v":317,"cluster":"track"},{"u":2607,"v":318,"cluster":"track"},{"u":2575,"v":318,"cluster":"track"},{"u":2530,"v":323,"cluster":"track"},{"u":2595,"v":325,"cluster":"track"},{"u":2590,"v":326,"cluster":"track"},{"u":2608,"v":327,"cluster":"track"},{"u":2598,"v":330,"cluster":"track"},{"u":2607,"v":338,"cluster":"track"},{"u":2587,"v":343,"cluster":"track"},{"u":2597,"v":345,"cluster":"track"},{"u":2578,"v":350,"cluster":"track"},{"u":2590,"v":352,"cluster":"track"},{"u":2600,"v":357,"cluster":"track"},{"u":2580,"v":362,"cluster":"track"},{"u":2573,"v":365,"cluster":"track"},{"u":2585,"v":367,"cluster":"track"},{"u":2605,"v":369,"cluster":"track"},{"u":2598,"v":373,"cluster":"track"},{"u":2577,"v":373,"cluster":"track"},{"u":2567,"v":380,"cluster":"track"},{"u":2583,"v":380,"cluster":"track"},{"u":2570,"v":387,"cluster":"track"},{"u":2603,"v":387,"cluster":"track"},{"u":2537,"v":387,"cluster":"track"},{"u":2587,"v":394,"cluster":"track"},{"u":2560,"v":397,"cluster":"track"},{"u":2572,"v":393,"cluster":"track"},{"u":2577,"v":406,"cluster":"track"},{"u":2568,"v":407,"cluster":"track"},{"u":2562,"v":417,"cluster":"track"},{"u":2554,"v":421,"cluster":"track"},{"u":2548,"v":430,"cluster":"track"},{"u":2538,"v":435,"cluster":"track"},{"u":2564,"v":435,"cluster":"track"},{"u":2553,"v":438,"cluster":"track"},{"u":2562,"v":443,"cluster":"track"},{"u":2547,"v":445,"cluster":"track"},{"u":2619,"v":444,"cluster":"track"},{"u":2606,"v":458,"cluster":"track"},{"u":2523,"v":451,"cluster":"track"},{"u":2537,"v":453,"cluster":"track"},{"u":2553,"v":450,"cluster":"track"},{"u":2522,"v":459,"cluster":"track"},{"u":2532,"v":463,"cluster":"track"},{"u":2547,"v":467,"cluster":"track"},{"u":2537,"v":472,"cluster":"track"},{"u":2523,"v":478,"cluster":"track"},{"u":2508,"v":480,"cluster":"track"},{"u":2538,"v":482,"cluster":"track"},{"u":2528,"v":485,"cluster":"track"},{"u":2552,"v":487,"cluster":"track"},{"u":2513,"v":492,"cluster":"track"},{"u":2527,"v":493,"cluster":"track"},{"u":2479,"v":496,"cluster":"track"},{"u":2513,"v":500,"cluster":"track"},{"u":2527,"v":503,"cluster":"track"},{"u":2503,"v":507,"cluster":"track"},{"u":2522,"v":510,"cluster":"track"},{"u":2488,"v":512,"cluster":"track"},{"u":2487,"v":517,"cluster":"track"},{"u":2500,"v":518,"cluster":"track"},{"u":2523,"v":517,"cluster":"track"},{"u":2513,"v":520,"cluster":"track"},{"u":2503,"v":528,"cluster":"track"},{"u":2513,"v":528,"cluster":"track"},{"u":2475,"v":534,"cluster":"track"},{"u":2472,"v":538,"cluster":"track"},{"u":2487,"v":538,"cluster":"track"},{"u":2497,"v":538,"cluster":"track"},{"u":2508,"v":541,"cluster":"track"},{"u":2503,"v":547,"cluster":"track"},{"u":2506,"v":557,"cluster":"track"},{"u":2487,"v":558,"cluster":"track"},{"u":2482,"v":563,"cluster":"track"},{"u":2497,"v":565,"cluster":"track"},{"u":2465,"v":569,"cluster":"track"},{"u":2457,"v":572,"cluster":"track"},{"u":2477,"v":573,"cluster":"track"},{"u":2485,"v":581,"cluster":"track"},{"u":2465,"v":583,"cluster":"track"},{"u":2454,"v":589,"cluster":"track"},{"u":2473,"v":590,"cluster":"track"},{"u":2485,"v":594,"cluster":"track"},{"u":2422,"v":594,"cluster":"track"},{"u":2439,"v":597,"cluster":"track"},{"u":2458,"v":597,"cluster":"track"},{"u":2467,"v":603,"cluster":"track"},{"u":2482,"v":609,"cluster":"track"},{"u":2453,"v":613,"cluster":"track"},{"u":2465,"v":613,"cluster":"track"},{"u":2443,"v":623,"cluster":"track"},{"u":2465,"v":622,"cluster":"track"},{"u":2478,"v":629,"cluster":"track"},{"u":2468,"v":634,"cluster":"track"},{"u":2494,"v":641,"cluster":"track"},{"u":2484,"v":646,"cluster":"track"},{"u":2437,"v":645,"cluster":"track"},{"u":2447,"v":647,"cluster":"track"},{"u":2465,"v":651,"cluster":"track"},{"u":2430,"v":656,"cluster":"track"},{"u":2443,"v":657,"cluster":"track"},{"u":2463,"v":660,"cluster":"track"},{"u":2468,"v":663,"cluster":"track"},{"u":2450,"v":667,"cluster":"track"},{"u":2440,"v":667,"cluster":"track"},{"u":2465,"v":671,"cluster":"track"},{"u":2425,"v":672,"cluster":"track"},{"u":2435,"v":675,"cluster":"track"},{"u":2448,"v":678,"cluster":"track"},{"u":2477,"v":684,"cluster":"track"},{"u":2428,"v":680,"cluster":"track"},{"u":2420,"v":683,"cluster":"track"},{"u":2433,"v":685,"cluster":"track"},{"u":2410,"v":689,"cluster":"track"},{"u":2542,"v":612,"cluster":"track"},{"u":2546,"v":618,"cluster":"track"},{"u":2610,"v":567,"cluster":"track"},{"u":2697,"v":609,"cluster":"track"},{"u":2401,"v":473,"cluster":"track"},{"u":2261,"v":660,"cluster":"track"},{"u":2262,"v":750,"cluster":"track"},{"u":2353,"v":698,"cluster":"track"},{"u":2352,"v":712,"cluster":"track"},{"u":2411,"v":692,"cluster":"track"},{"u":2446,"v":680,"cluster":"track"},{"u":2430,"v":697,"cluster":"track"},{"u":2418,"v":703,"cluster":"track"},{"u":2409,"v":708,"cluster":"track"},{"u":2425,"v":707,"cluster":"track"},{"u":2436,"v":705,"cluster":"track"},{"u":2445,"v":707,"cluster":"track"},{"u":2400,"v":718,"cluster":"track"},{"u":2414,"v":717,"cluster":"track"},{"u":2423,"v":720,"cluster":"track"},{"u":2446,"v":722,"cluster":"track"},{"u":2452,"v":722,"cluster":"track"},{"u":2498,"v":732,"cluster":"track"},{"u":2455,"v":737,"cluster":"track"},{"u":2386,"v":725,"cluster":"track"},{"u":2395,"v":732,"cluster":"track"},{"u":2411,"v":735,"cluster":"track"},{"u":2386,"v":740,"cluster":"track"},{"u":2400,"v":743,"cluster":"track"},{"u":2379,"v":752,"cluster":"track"},{"u":2393,"v":750,"cluster":"track"},{"u":2407,"v":753,"cluster":"track"},{"u":2423,"v":757,"cluster":"track"},{"u":2414,"v":753,"cluster":"track"},{"u":2361,"v":758,"cluster":"track"},{"u":2349,"v":760,"cluster":"track"},{"u":2355,"v":767,"cluster":"track"},{"u":2319,"v":764,"cluster":"track"},{"u":2370,"v":767,"cluster":"track"},{"u":2382,"v":767,"cluster":"track"},{"u":2396,"v":765,"cluster":"track"},{"u":2484,"v":765,"cluster":"track"},{"u":2412,"v":772,"cluster":"track"},{"u":2429,"v":770,"cluster":"track"},{"u":2437,"v":776,"cluster":"track"},{"u":2398,"v":778,"cluster":"track"},{"u":2364,"v":775,"cluster":"track"},{"u":2375,"v":780,"cluster":"track"},{"u":2354,"v":785,"cluster":"track"},{"u":2407,"v":787,"cluster":"track"},{"u":2299,"v":788,"cluster":"track"},{"u":2312,"v":792,"cluster":"track"},{"u":2334,"v":788,"cluster":"track"},{"u":2346,"v":790,"cluster":"track"},{"u":2361,"v":793,"cluster":"track"},{"u":2379,"v":790,"cluster":"track"},{"u":2368,"v":807,"cluster":"track"},{"u":2307,"v":798,"cluster":"track"},{"u":2321,"v":797,"cluster":"track"},{"u":2332,"v":797,"cluster":"track"},{"u":2386,"v":797,"cluster":"track"},{"u":2430,"v":798,"cluster":"track"},{"u":2382,"v":800,"cluster":"track"},{"u":2300,"v":806,"cluster":"track"},{"u":2311,"v":808,"cluster":"track"},{"u":2325,"v":807,"cluster":"track"},{"u":2341,"v":803,"cluster":"track"},{"u":2371,"v":806,"cluster":"track"},{"u":2393,"v":807,"cluster":"track"},{"u":2387,"v":810,"cluster":"track"},{"u":2407,"v":813,"cluster":"track"},{"u":2407,"v":819,"cluster":"track"},{"u":2391,"v":816,"cluster":"track"},{"u":2321,"v":815,"cluster":"track"},{"u":2337,"v":815,"cluster":"track"},{"u":2354,"v":817,"cluster":"track"},{"u":2318,"v":822,"cluster":"track"},{"u":2332,"v":825,"cluster":"track"},{"u":2346,"v":823,"cluster":"track"},{"u":2364,"v":823,"cluster":"track"},{"u":2371,"v":829,"cluster":"track"},{"u":2304,"v":828,"cluster":"track"},{"u":2311,"v":834,"cluster":"track"},{"u":2258,"v":831,"cluster":"track"},{"u":2321,"v":828,"cluster":"track"},{"u":2336,"v":833,"cluster":"track"},{"u":2350,"v":832,"cluster":"track"},{"u":2297,"v":833,"cluster":"track"},{"u":2289,"v":840,"cluster":"track"},{"u":2296,"v":840,"cluster":"track"},{"u":2359,"v":838,"cluster":"track"},{"u":2375,"v":840,"cluster":"track"},{"u":2321,"v":845,"cluster":"track"},{"u":2336,"v":852,"cluster":"track"},{"u":2348,"v":849,"cluster":"track"},{"u":2361,"v":845,"cluster":"track"},{"u":2387,"v":849,"cluster":"track"},{"u":2341,"v":861,"cluster":"track"},{"u":2362,"v":863,"cluster":"track"},{"u":2396,"v":862,"cluster":"track"},{"u":2411,"v":849,"cluster":"track"},{"u":2573,"v":776,"cluster":"track"},{"u":2578,"v":775,"cluster":"track"},{"u":2541,"v":870,"cluster":"track"},{"u":2681,"v":937,"cluster":"track"},{"u":2329,"v":800,"cluster":"track"},{"u":2343,"v":797,"cluster":"track"},{"u":2357,"v":800,"cluster":"track"},{"u":2318,"v":807,"cluster":"track"},{"u":2332,"v":813,"cluster":"track"},{"u":2346,"v":810,"cluster":"track"},{"u":2361,"v":810,"cluster":"track"},{"u":2325,"v":820,"cluster":"track"},{"u":2343,"v":820,"cluster":"track"},{"u":2357,"v":827,"cluster":"track"},{"u":2311,"v":817,"cluster":"track"},{"u":2414,"v":693,"cluster":"track"},{"u":2436,"v":682,"cluster":"track"},{"u":2421,"v":697,"cluster":"track"},{"u":2403,"v":717,"cluster":"track"},{"u":2389,"v":735,"cluster":"track"},{"u":2379,"v":743,"cluster":"track"},{"u":2382,"v":773,"cluster":"track"},{"u":2368,"v":787,"cluster":"track"},{"u":2350,"v":797,"cluster":"track"},{"u":2892,"v":325,"cluster":"track"},{"u":2333,"v":512,"cluster":"track"},{"u":2774,"v":584,"cluster":"track"},{"u":2890,"v":596,"cluster":"track"},{"u":2942,"v":613,"cluster":"track"},{"u":3097,"v":586,"cluster":"track"},{"u":3035,"v":778,"cluster":"track"},{"u":2953,"v":786,"cluster":"track"},{"u":3017,"v":801,"cluster":"track"},{"u":2924,"v":859,"cluster":"track"},{"u":2828,"v":891,"cluster":"track"},{"u":2990,"v":918,"cluster":"track"},{"u":2500,"v":888,"cluster":"shower"},{"u":2520,"v":896,"cluster":"shower"},{"u":2540,"v":885,"cluster":"shower"},{"u":2555,"v":890,"cluster":"shower"},{"u":2570,"v":893,"cluster":"shower"},{"u":2585,"v":896,"cluster":"shower"},{"u":2597,"v":900,"cluster":"shower"},{"u":2608,"v":913,"cluster":"shower"},{"u":2618,"v":912,"cluster":"shower"},{"u":2630,"v":912,"cluster":"shower"},{"u":2640,"v":915,"cluster":"shower"},{"u":2655,"v":918,"cluster":"shower"},{"u":2648,"v":928,"cluster":"shower"},{"u":2635,"v":922,"cluster":"shower"},{"u":2672,"v":922,"cluster":"shower"},{"u":2688,"v":920,"cluster":"shower"},{"u":2695,"v":915,"cluster":"shower"},{"u":2440,"v":870,"cluster":"shower"},{"u":2450,"v":870,"cluster":"shower"},{"u":2465,"v":870,"cluster":"shower"},{"u":2480,"v":877,"cluster":"shower"},{"u":2490,"v":890,"cluster":"shower"},{"u":2330,"v":856,"cluster":"shower"},{"u":2368,"v":854,"cluster":"shower"},{"u":2378,"v":853,"cluster":"shower"},{"u":2387,"v":858,"cluster":"shower"},{"u":2396,"v":858,"cluster":"shower"},{"u":2405,"v":850,"cluster":"shower"},{"u":2403,"v":858,"cluster":"shower"},{"u":2356,"v":861,"cluster":"shower"},{"u":2414,"v":863,"cluster":"shower"},{"u":2421,"v":868,"cluster":"shower"},{"u":2436,"v":852,"cluster":"shower"},{"u":2461,"v":851,"cluster":"shower"},{"u":2458,"v":855,"cluster":"shower"},{"u":2468,"v":860,"cluster":"shower"},{"u":2456,"v":863,"cluster":"shower"},{"u":2436,"v":865,"cluster":"shower"},{"u":2428,"v":877,"cluster":"shower"},{"u":2437,"v":873,"cluster":"shower"},{"u":2446,"v":877,"cluster":"shower"},{"u":2457,"v":872,"cluster":"shower"},{"u":2464,"v":877,"cluster":"shower"},{"u":2450,"v":883,"cluster":"shower"},{"u":2411,"v":881,"cluster":"shower"},{"u":2264,"v":878,"cluster":"shower"},{"u":2337,"v":885,"cluster":"shower"},{"u":2348,"v":810,"cluster":"shower"},{"u":2464,"v":762,"cluster":"shower"},{"u":2540,"v":777,"cluster":"shower"},{"u":2478,"v":882,"cluster":"shower"},{"u":2475,"v":888,"cluster":"shower"},{"u":2486,"v":883,"cluster":"shower"},{"u":2496,"v":873,"cluster":"shower"},{"u":2504,"v":867,"cluster":"shower"},{"u":2514,"v":863,"cluster":"shower"},{"u":2528,"v":858,"cluster":"shower"},{"u":2496,"v":882,"cluster":"shower"},{"u":2507,"v":883,"cluster":"shower"},{"u":2518,"v":887,"cluster":"shower"},{"u":2527,"v":880,"cluster":"shower"},{"u":2478,"v":899,"cluster":"shower"},{"u":2503,"v":897,"cluster":"shower"},{"u":2512,"v":898,"cluster":"shower"},{"u":2521,"v":893,"cluster":"shower"},{"u":2530,"v":890,"cluster":"shower"},{"u":2536,"v":898,"cluster":"shower"},{"u":2550,"v":892,"cluster":"shower"},{"u":2561,"v":895,"cluster":"shower"},{"u":2539,"v":897,"cluster":"shower"},{"u":2527,"v":908,"cluster":"shower"},{"u":2542,"v":909,"cluster":"shower"},{"u":2572,"v":883,"cluster":"shower"},{"u":2573,"v":890,"cluster":"shower"},{"u":2571,"v":898,"cluster":"shower"},{"u":2591,"v":888,"cluster":"shower"},{"u":2564,"v":908,"cluster":"shower"},{"u":2561,"v":917,"cluster":"shower"},{"u":2578,"v":902,"cluster":"shower"},{"u":2591,"v":905,"cluster":"shower"},{"u":2602,"v":905,"cluster":"shower"},{"u":2612,"v":910,"cluster":"shower"},{"u":2589,"v":908,"cluster":"shower"},{"u":2603,"v":917,"cluster":"shower"},{"u":2605,"v":922,"cluster":"shower"},{"u":2625,"v":898,"cluster":"shower"},{"u":2625,"v":905,"cluster":"shower"},{"u":2643,"v":900,"cluster":"shower"},{"u":2621,"v":917,"cluster":"shower"},{"u":2632,"v":918,"cluster":"shower"},{"u":2643,"v":910,"cluster":"shower"},{"u":2653,"v":913,"cluster":"shower"},{"u":2664,"v":913,"cluster":"shower"},{"u":2671,"v":915,"cluster":"shower"},{"u":2636,"v":927,"cluster":"shower"},{"u":2650,"v":923,"cluster":"shower"},{"u":2625,"v":927,"cluster":"shower"},{"u":2625,"v":937,"cluster":"shower"},{"u":2643,"v":932,"cluster":"shower"},{"u":2659,"v":932,"cluster":"shower"},{"u":2668,"v":925,"cluster":"shower"},{"u":2675,"v":933,"cluster":"shower"},{"u":2682,"v":925,"cluster":"shower"},{"u":2691,"v":918,"cluster":"shower"},{"u":2698,"v":910,"cluster":"shower"},{"u":2711,"v":909,"cluster":"shower"},{"u":2705,"v":913,"cluster":"shower"},{"u":2705,"v":922,"cluster":"shower"},{"u":2707,"v":932,"cluster":"shower"},{"u":2711,"v":935,"cluster":"shower"},{"u":2589,"v":943,"cluster":"shower"},{"u":2600,"v":948,"cluster":"shower"},{"u":2603,"v":952,"cluster":"shower"},{"u":2678,"v":952,"cluster":"shower"},{"u":2716,"v":951,"cluster":"shower"},{"u":2719,"v":950,"cluster":"shower"},{"u":2576,"v":964,"cluster":"shower"},{"u":2724,"v":869,"cluster":"shower"},{"u":2719,"v":880,"cluster":"shower"},{"u":2722,"v":881,"cluster":"shower"},{"u":2310,"v":928,"cluster":"shower"},{"u":2441,"v":947,"cluster":"shower"},{"u":2611,"v":917,"cluster":"shower"},{"u":2650,"v":913,"cluster":"shower"},{"u":2661,"v":920,"cluster":"shower"},{"u":2639,"v":920,"cluster":"shower"},{"u":2557,"v":897,"cluster":"shower"},{"u":2582,"v":900,"cluster":"shower"},{"u":2489,"v":883,"cluster":"shower"},{"u":2514,"v":890,"cluster":"shower"},{"u":2428,"v":870,"cluster":"shower"},{"u":2461,"v":877,"cluster":"shower"},{"u":2664,"v":927,"cluster":"shower"},{"u":2628,"v":923,"cluster":"shower"},{"u":2614,"v":920,"cluster":"shower"},{"u":2761,"v":696,"cluster":"shower"},{"u":2765,"v":697,"cluster":"shower"},{"u":2870,"v":758,"cluster":"shower"},{"u":2857,"v":765,"cluster":"shower"},{"u":2949,"v":910,"cluster":"shower"},{"u":3123,"v":945,"cluster":"shower"},{"u":2680,"v":1139,"cluster":"shower"},{"u":2609,"v":865,"cluster":"noise a"},{"u":2798,"v":908,"cluster":"noise a"},{"u":3101,"v":1013,"cluster":"noise a"},{"u":2755,"v":819,"cluster":"noise b"},{"u":2327,"v":967,"cluster":"noise c"},{"u":2534,"v":1136,"cluster":"noise c"}]},"mark":{"type":"point","shape":"square","filled":true,"size":105,"opacity":0.95},"encoding":{"color":{"field":"cluster","type":"nominal","legend":null,"scale":{"domain":["track","shower","noise a","noise b","noise c"],"range":["#6abd45","#3953a4","#808080","#c9a09a","#7a4848"]}}}},
{"data":{"values":[{"u":2027,"v":1195,"label":"300"},{"u":2160,"v":1241,"label":"250"},{"u":2295,"v":1287,"label":"200"},{"u":2430,"v":1336,"label":"150"},{"u":2568,"v":1383,"label":"100"},{"u":2704,"v":1432,"label":"50"},{"u":2844,"v":1480,"label":"0"},{"u":2977,"v":1464,"label":"0"},{"u":3075,"v":1360,"label":"50"},{"u":3168,"v":1258,"label":"100"},{"u":3259,"v":1159,"label":"150"},{"u":3350,"v":1062,"label":"200"},{"u":3437,"v":966,"label":"250"},{"u":3560,"v":381,"label":"0"},{"u":3553,"v":441,"label":"20"},{"u":3546,"v":501,"label":"40"},{"u":3539,"v":560,"label":"60"},{"u":3532,"v":618,"label":"80"},{"u":3525,"v":674,"label":"100"},{"u":3518,"v":729,"label":"120"},{"u":3512,"v":784,"label":"140"},{"u":3505,"v":839,"label":"160"}]},"mark":{"type":"text","fontSize":33,"align":"center","baseline":"middle"},"encoding":{"text":{"field":"label"}}},
{"data":{"values":[{"u":2379,"v":1365,"label":"X (mm)"}]},"mark":{"type":"text","fontSize":35,"align":"center","baseline":"middle","angle":20},"encoding":{"text":{"field":"label"}}},
{"data":{"values":[{"u":3271,"v":1220,"label":"Y (mm)"}]},"mark":{"type":"text","fontSize":35,"align":"center","baseline":"middle","angle":310},"encoding":{"text":{"field":"label"}}},
{"data":{"values":[{"u":3608,"v":593,"label":"Z (mm)"}]},"mark":{"type":"text","fontSize":35,"align":"center","baseline":"middle","angle":275},"encoding":{"text":{"field":"label"}}}
]}
]},
{"bounds":"flush","spacing":0,"hconcat":[
{"width":718,"height":10,"data":{"values":[{"blank":0}]},"mark":{"type":"point","opacity":0},"encoding":{}},
{"width":2284,"height":1484,"view":{"stroke":"#231f20","strokeWidth":3},"encoding":{"x":{"field":"start","type":"quantitative","scale":{"domain":[-170,100],"nice":false},"axis":{"values":[-150,-100,-50,0,50,100],"grid":false,"domain":false,"tickSize":15,"tickWidth":3,"tickColor":"#231f20","labelFontSize":52,"labelColor":"#231f20","labelPadding":5,"title":"Distance (mm)","titleFontSize":55,"titleFontWeight":"normal","titleColor":"#231f20","titlePadding":6}},"y":{"field":"dEdX","type":"quantitative","stack":null,"scale":{"domain":[0,7.85],"nice":false},"axis":{"values":[0,1,2,3,4,5,6,7],"grid":false,"domain":false,"tickSize":15,"tickWidth":3,"tickColor":"#231f20","labelFontSize":52,"labelColor":"#231f20","labelPadding":10,"title":"dE/dX (MeV/cm)","titleFontSize":55,"titleFontWeight":"normal","titleColor":"#231f20","titlePadding":12}},"color":{"field":"series","type":"nominal","sort":null,"scale":{"domain":["GEANT4","Purity corrected","Uncorrected"],"range":["#231f20","#1a77b5","#f67f21"]},"legend":{"orient":"none","legendX":2432,"legendY":1781,"title":null,"symbolType":"M-2,-0.6H2V0.6H-2Z","symbolSize":2756,"symbolStrokeWidth":0,"symbolOffset":28,"labelFontSize":47,"labelColor":"#231f20","labelOffset":61,"labelLimit":600,"fillColor":"#ffffff","strokeColor":"#dcddde","cornerRadius":8,"padding":14,"rowPadding":16}}},"layer":[
{"data":{"values":[{"start":-170,"end":-160,"dEdX":2.0,"series":"Purity corrected"},{"start":-160,"end":-150,"dEdX":1.855,"series":"Purity corrected"},{"start":-150,"end":-140,"dEdX":2.648,"series":"Purity corrected"},{"start":-140,"end":-130,"dEdX":1.867,"series":"Purity corrected"},{"start":-130,"end":-120,"dEdX":2.338,"series":"Purity corrected"},{"start":-120,"end":-110,"dEdX":3.125,"series":"Purity corrected"},{"start":-110,"end":-100,"dEdX":2.343,"series":"Purity corrected"},{"start":-100,"end":-90,"dEdX":2.378,"series":"Purity corrected"},{"start":-90,"end":-80,"dEdX":2.476,"series":"Purity corrected"},{"start":-80,"end":-70,"dEdX":2.711,"series":"Purity corrected"},{"start":-70,"end":-60,"dEdX":2.958,"series":"Purity corrected"},{"start":-60,"end":-50,"dEdX":2.562,"series":"Purity corrected"},{"start":-50,"end":-40,"dEdX":3.314,"series":"Purity corrected"},{"start":-40,"end":-30,"dEdX":4.233,"series":"Purity corrected"},{"start":-30,"end":-20,"dEdX":3.463,"series":"Purity corrected"},{"start":-20,"end":-10,"dEdX":4.922,"series":"Purity corrected"},{"start":-10,"end":0,"dEdX":7.197,"series":"Purity corrected"},{"start":0,"end":10,"dEdX":7.478,"series":"Purity corrected"},{"start":10,"end":20,"dEdX":1.195,"series":"Purity corrected"},{"start":20,"end":30,"dEdX":0.195,"series":"Purity corrected"},{"start":30,"end":40,"dEdX":0.138,"series":"Purity corrected"},{"start":-170,"end":-160,"dEdX":1.9,"series":"Uncorrected"},{"start":-160,"end":-150,"dEdX":1.757,"series":"Uncorrected"},{"start":-150,"end":-140,"dEdX":2.487,"series":"Uncorrected"},{"start":-140,"end":-130,"dEdX":1.735,"series":"Uncorrected"},{"start":-130,"end":-120,"dEdX":2.137,"series":"Uncorrected"},{"start":-120,"end":-110,"dEdX":2.83,"series":"Uncorrected"},{"start":-110,"end":-100,"dEdX":2.1,"series":"Uncorrected"},{"start":-100,"end":-90,"dEdX":2.12,"series":"Uncorrected"},{"start":-90,"end":-80,"dEdX":2.171,"series":"Uncorrected"},{"start":-80,"end":-70,"dEdX":2.355,"series":"Uncorrected"},{"start":-70,"end":-60,"dEdX":2.533,"series":"Uncorrected"},{"start":-60,"end":-50,"dEdX":2.183,"series":"Uncorrected"},{"start":-50,"end":-40,"dEdX":2.79,"series":"Uncorrected"},{"start":-40,"end":-30,"dEdX":3.532,"series":"Uncorrected"},{"start":-30,"end":-20,"dEdX":2.86,"series":"Uncorrected"},{"start":-20,"end":-10,"dEdX":4.038,"series":"Uncorrected"},{"start":-10,"end":0,"dEdX":5.859,"series":"Uncorrected"},{"start":0,"end":10,"dEdX":6.06,"series":"Uncorrected"},{"start":10,"end":20,"dEdX":0.976,"series":"Uncorrected"},{"start":20,"end":30,"dEdX":0.16,"series":"Uncorrected"},{"start":30,"end":40,"dEdX":0.12,"series":"Uncorrected"}]},"mark":{"type":"bar","clip":true},"encoding":{"x2":{"field":"end"},"y2":{"datum":0}}},
{"data":{"values":[{"start":-170,"dEdX":2.6,"series":"GEANT4"},{"start":-160,"dEdX":2.645,"series":"GEANT4"},{"start":-150,"dEdX":2.69,"series":"GEANT4"},{"start":-140,"dEdX":2.74,"series":"GEANT4"},{"start":-130,"dEdX":2.79,"series":"GEANT4"},{"start":-120,"dEdX":2.85,"series":"GEANT4"},{"start":-110,"dEdX":2.92,"series":"GEANT4"},{"start":-100,"dEdX":2.99,"series":"GEANT4"},{"start":-90,"dEdX":3.07,"series":"GEANT4"},{"start":-80,"dEdX":3.17,"series":"GEANT4"},{"start":-70,"dEdX":3.29,"series":"GEANT4"},{"start":-60,"dEdX":3.45,"series":"GEANT4"},{"start":-50,"dEdX":3.66,"series":"GEANT4"},{"start":-40,"dEdX":3.95,"series":"GEANT4"},{"start":-35,"dEdX":4.13,"series":"GEANT4"},{"start":-30,"dEdX":4.35,"series":"GEANT4"},{"start":-24.3,"dEdX":4.63,"series":"GEANT4"},{"start":-20,"dEdX":4.99,"series":"GEANT4"},{"start":-16.5,"dEdX":5.35,"series":"GEANT4"},{"start":-12.5,"dEdX":5.93,"series":"GEANT4"},{"start":-10,"dEdX":6.29,"series":"GEANT4"},{"start":-7.4,"dEdX":6.65,"series":"GEANT4"},{"start":-4.6,"dEdX":7.0,"series":"GEANT4"},{"start":-2.3,"dEdX":7.13,"series":"GEANT4"},{"start":-0.3,"dEdX":7.18,"series":"GEANT4"},{"start":1.65,"dEdX":7.13,"series":"GEANT4"},{"start":3.6,"dEdX":6.91,"series":"GEANT4"},{"start":5.6,"dEdX":6.55,"series":"GEANT4"},{"start":7.2,"dEdX":6.17,"series":"GEANT4"},{"start":8.7,"dEdX":5.59,"series":"GEANT4"},{"start":10.3,"dEdX":4.87,"series":"GEANT4"},{"start":11.9,"dEdX":4.1,"series":"GEANT4"},{"start":13.5,"dEdX":3.24,"series":"GEANT4"},{"start":15.05,"dEdX":2.43,"series":"GEANT4"},{"start":16.6,"dEdX":1.76,"series":"GEANT4"},{"start":18.2,"dEdX":1.23,"series":"GEANT4"},{"start":19.8,"dEdX":0.8,"series":"GEANT4"},{"start":21.4,"dEdX":0.51,"series":"GEANT4"},{"start":23,"dEdX":0.32,"series":"GEANT4"},{"start":24.9,"dEdX":0.15,"series":"GEANT4"},{"start":26.9,"dEdX":0.07,"series":"GEANT4"},{"start":30,"dEdX":0.04,"series":"GEANT4"},{"start":40,"dEdX":0.05,"series":"GEANT4"},{"start":50,"dEdX":0.05,"series":"GEANT4"},{"start":70,"dEdX":0.04,"series":"GEANT4"},{"start":100,"dEdX":0.035,"series":"GEANT4"}]},"mark":{"type":"line","strokeWidth":22,"clip":true,"interpolate":"monotone"}}
]}
]}
]}
